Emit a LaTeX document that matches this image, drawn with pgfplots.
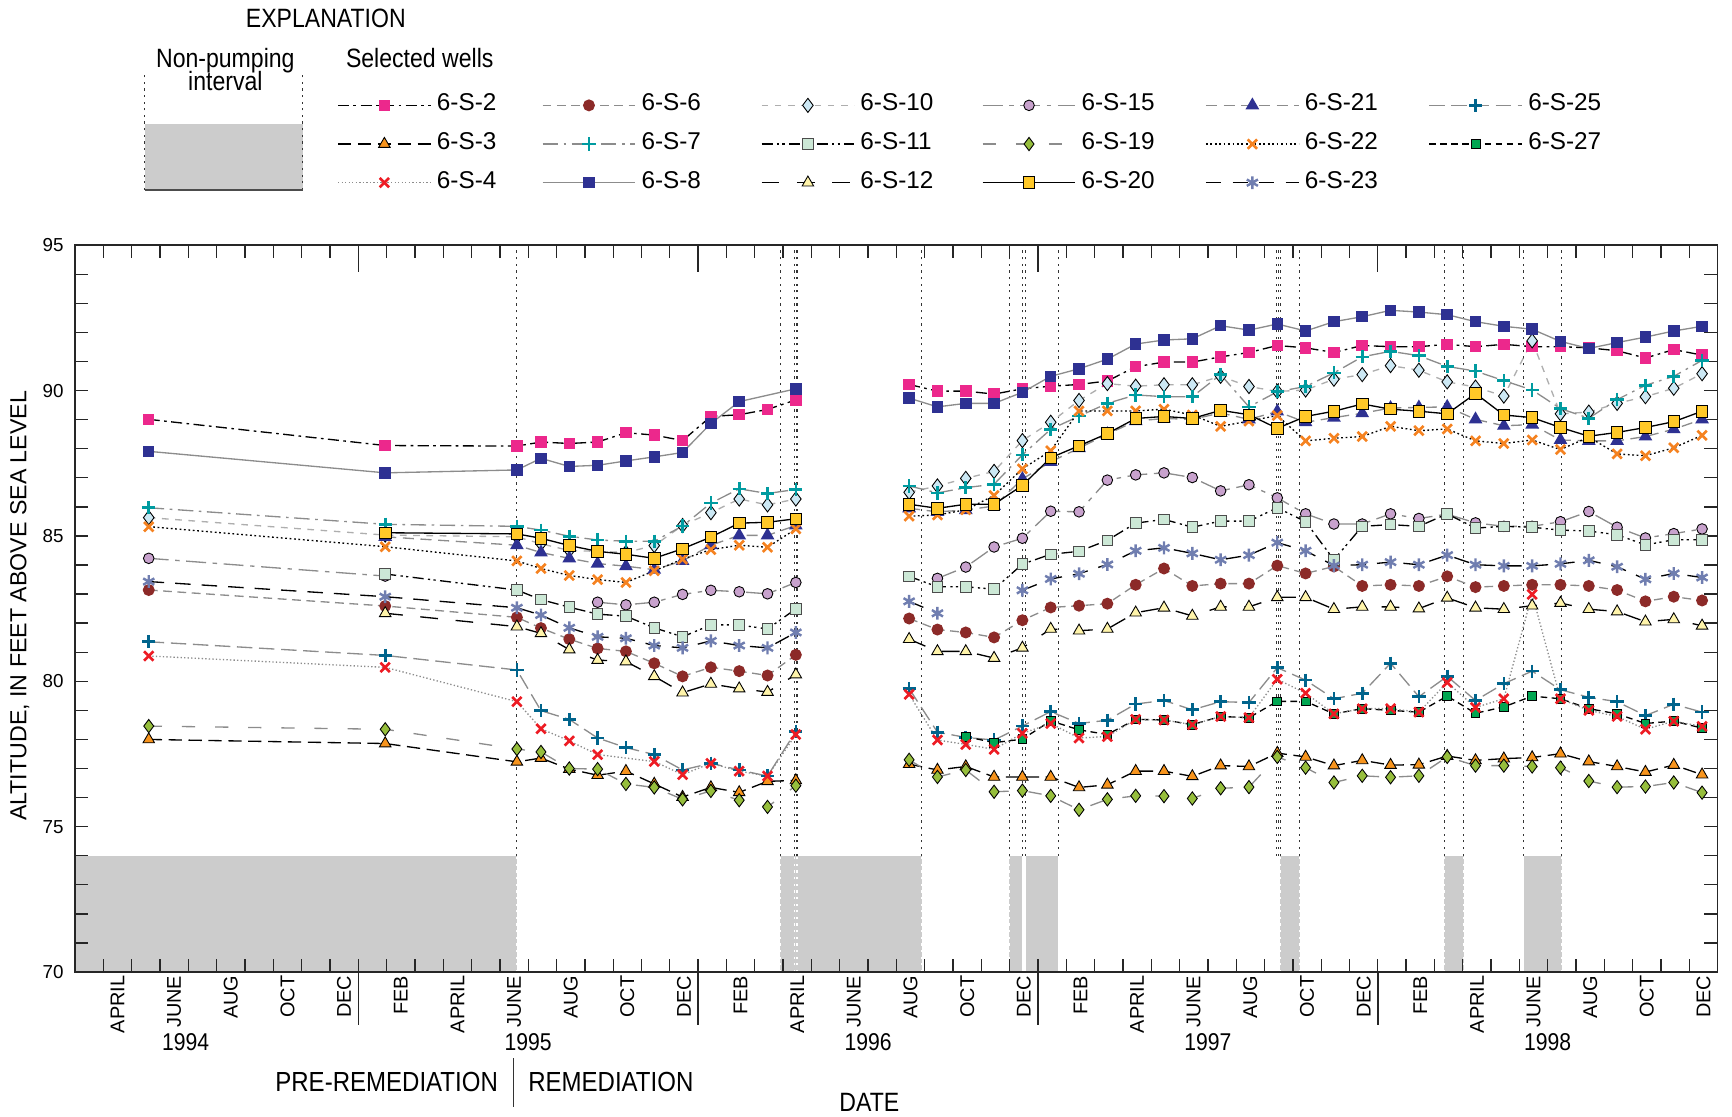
\documentclass[border=0pt]{standalone}
\usepackage{fontspec}
\setmainfont{Liberation Sans}
\newfontfamily\narrow{Liberation Sans}[FakeStretch=0.87]
\usepackage{pgfplots}
\pgfplotsset{compat=1.18}
\definecolor{c2}{RGB}{236,40,140}
\definecolor{c3}{RGB}{247,148,29}
\definecolor{c4}{RGB}{237,28,36}
\definecolor{c6}{RGB}{140,42,40}
\definecolor{c7}{RGB}{0,155,160}
\definecolor{c8}{RGB}{46,49,146}
\definecolor{c10}{RGB}{204,232,244}
\definecolor{c11}{RGB}{204,232,214}
\definecolor{c12}{RGB}{255,244,170}
\definecolor{c15}{RGB}{200,162,205}
\definecolor{c19}{RGB}{150,190,60}
\definecolor{c20}{RGB}{255,200,40}
\definecolor{c21}{RGB}{46,49,146}
\definecolor{c22}{RGB}{245,130,32}
\definecolor{c23}{RGB}{112,126,176}
\definecolor{c25}{RGB}{0,100,140}
\definecolor{c27}{RGB}{0,166,81}
\definecolor{lg}{RGB}{140,140,140}
\definecolor{np}{RGB}{204,204,204}
\pgfplotsset{
 lw/.style={line width=0.6pt},
 s2/.style={lw, black, dash pattern=on 5pt off 2pt on 1.2pt off 2pt, mark=square*, mark size=2.3pt, mark options={solid, fill=c2, draw=c2}},
 s3/.style={lw, black, dash pattern=on 6pt off 3pt, mark=triangle*, mark size=3pt, mark options={solid, fill=c3, draw=black, line width=0.4pt}},
 s4/.style={lw, lg, dash pattern=on 0.6pt off 1pt, mark=x, mark size=3pt, mark options={solid, draw=c4, line width=1.2pt}},
 s6/.style={lw, lg, dash pattern=on 4pt off 2.5pt, mark=*, mark size=2.4pt, mark options={solid, fill=c6, draw=c6}},
 s7/.style={lw, lg, dash pattern=on 7pt off 2.5pt on 1.2pt off 2.5pt, mark=+, mark size=3pt, mark options={solid, draw=c7, line width=1.2pt}},
 s8/.style={lw, lg, solid, mark=square*, mark size=2.3pt, mark options={solid, fill=c8, draw=c8}},
 s10/.style={lw, lg!70, dash pattern=on 3pt off 3pt, mark=diamond*, mark size=3.2pt, mark options={solid, fill=c10, draw=black, line width=0.4pt}},
 s11/.style={lw, black, dash pattern=on 5pt off 2pt on 1pt off 1.5pt on 1pt off 2pt, mark=square*, mark size=2.4pt, mark options={solid, fill=c11, draw=black!70, line width=0.4pt}},
 s12/.style={lw, black, dash pattern=on 8pt off 8pt, mark=triangle*, mark size=3pt, mark options={solid, fill=c12, draw=black, line width=0.4pt}},
 s15/.style={lw, lg, dash pattern=on 9pt off 3pt on 2pt off 3pt, mark=*, mark size=2.4pt, mark options={solid, fill=c15, draw=black, line width=0.4pt}},
 s19/.style={lw, lg, dash pattern=on 6pt off 9pt, mark=diamond*, mark size=3pt, mark options={solid, fill=c19, draw=black, line width=0.4pt}},
 s20/.style={lw, black, solid, mark=square*, mark size=2.6pt, mark options={solid, fill=c20, draw=black, line width=0.4pt}},
 s21/.style={lw, lg, dash pattern=on 5pt off 3pt, mark=triangle*, mark size=3pt, mark options={solid, fill=c21, draw=c21}},
 s22/.style={lw, black, dash pattern=on 0.8pt off 1.2pt, mark=x, mark size=3pt, mark options={solid, draw=c22, line width=1.2pt}},
 s23/.style={lw, black, dash pattern=on 7pt off 5pt, mark=asterisk, mark size=2.9pt, mark options={solid, draw=c23, line width=1.1pt}},
 s25/.style={lw, lg, dash pattern=on 7pt off 3pt, mark=+, mark size=3pt, mark options={solid, draw=c25, line width=1.2pt}},
 s27/.style={lw, black, dash pattern=on 3pt off 2pt, mark=square*, mark size=2pt, mark options={solid, fill=c27, draw=black, line width=0.4pt}},
}
\begin{document}
\begin{tikzpicture}
\begin{axis}[
 at={(0,0)}, anchor=south west, scale only axis,
 width=743.5pt, height=329pt,
 xmin=2, xmax=60, ymin=70, ymax=95,
 clip=false, axis on top,
 unbounded coords=jump,
 axis line style={black!85, line width=0.7pt},
 xtick={3.5,5.5,...,59.5},
 xticklabels={APRIL,JUNE,AUG,OCT,DEC,FEB,APRIL,JUNE,AUG,OCT,DEC,FEB,APRIL,JUNE,AUG,OCT,DEC,FEB,APRIL,JUNE,AUG,OCT,DEC,FEB,APRIL,JUNE,AUG,OCT,DEC},
 major x tick style={draw=none},
 minor xtick={3,4,...,59},
 ytick={70,75,...,95},
 minor ytick={71,...,94},
 minor tick length=6pt, major tick length=6pt,
 tick style={black!85, line width=0.6pt},
 xticklabel style={rotate=90, anchor=east, font=\fontsize{9}{10}\selectfont, inner sep=1.5pt},
 yticklabel style={font=\fontsize{8.5}{10}\selectfont, inner sep=0pt, xshift=-5pt},
 /pgf/number format/assume math mode=true,
 legend columns=6, legend cell align=left,
 legend style={draw=none, fill=none, at={(0.15938,1.2067)}, anchor=north west, inner sep=0pt, row sep=8.5pt, column sep=0pt, font=\fontsize{11}{13}\selectfont, nodes={inner sep=0pt, text height=7pt, text depth=2pt}},
 legend image code/.code={\draw[mark repeat=2,mark phase=2,#1] plot coordinates {(0pt,0pt) (21pt,0pt) (42pt,0pt)};},
]
% non-pumping intervals
\addplot[fill=np, draw=none, forget plot] coordinates {(2,70) (17.6,70) (17.6,74) (2,74)} -- cycle;
\addplot[fill=np, draw=none, forget plot] coordinates {(26.9,70) (31.89,70) (31.89,74) (26.9,74)} -- cycle;
\addplot[fill=np, draw=none, forget plot] coordinates {(34.98,70) (35.45,70) (35.45,74) (34.98,74)} -- cycle;
\addplot[fill=np, draw=none, forget plot] coordinates {(35.57,70) (36.71,70) (36.71,74) (35.57,74)} -- cycle;
\addplot[fill=np, draw=none, forget plot] coordinates {(44.55,70) (45.25,70) (45.25,74) (44.55,74)} -- cycle;
\addplot[fill=np, draw=none, forget plot] coordinates {(50.35,70) (51.03,70) (51.03,74) (50.35,74)} -- cycle;
\addplot[fill=np, draw=none, forget plot] coordinates {(53.15,70) (54.5,70) (54.5,74) (53.15,74)} -- cycle;
\pgfplotsinvokeforeach{17.6,26.9,27.41,27.49,31.89,34.98,35.45,35.57,36.71,44.43,44.48,44.55,45.25,50.35,51.03,53.15,54.5}{
 \addplot[forget plot, black!80, line width=0.5pt, dash pattern=on 1pt off 2pt] coordinates {(#1,74) (#1,95)};
 \addplot[forget plot, white, line width=0.5pt, dash pattern=on 1pt off 2pt] coordinates {(#1,70) (#1,74)};
}
% row 1
\addplot[s2] table[row sep=\\] {x y\\ 4.6 89.01\\ 12.95 88.11\\ 17.6 88.09\\ 18.45 88.23\\ 19.45 88.18\\ 20.45 88.23\\ 21.45 88.55\\ 22.45 88.47\\ 23.45 88.28\\ 24.45 89.11\\ 25.45 89.17\\ 26.45 89.35\\ 27.45 89.68\\ 29 nan\\ 31.45 90.21\\ 32.45 89.98\\ 33.45 89.98\\ 34.45 89.88\\ 35.45 90.06\\ 36.45 90.15\\ 37.45 90.21\\ 38.45 90.33\\ 39.45 90.82\\ 40.45 90.98\\ 41.45 90.98\\ 42.45 91.16\\ 43.45 91.31\\ 44.45 91.55\\ 45.45 91.47\\ 46.45 91.31\\ 47.45 91.55\\ 48.45 91.51\\ 49.45 91.51\\ 50.45 91.59\\ 51.45 91.51\\ 52.45 91.59\\ 53.45 91.51\\ 54.45 91.51\\ 55.45 91.47\\ 56.45 91.37\\ 57.45 91.12\\ 58.45 91.41\\ 59.45 91.22\\};
\addlegendentry{\makebox[50pt][l]{\hspace{2.5pt}6-S-2}}
\addplot[s6] table[row sep=\\] {x y\\ 4.6 83.14\\ 12.95 82.59\\ 17.6 82.2\\ 18.45 81.83\\ 19.45 81.45\\ 20.45 81.13\\ 21.45 81.03\\ 22.45 80.62\\ 23.45 80.17\\ 24.45 80.48\\ 25.45 80.35\\ 26.45 80.2\\ 27.45 80.91\\ 29 nan\\ 31.45 82.16\\ 32.45 81.78\\ 33.45 81.68\\ 34.45 81.51\\ 35.45 82.1\\ 36.45 82.54\\ 37.45 82.6\\ 38.45 82.67\\ 39.45 83.32\\ 40.45 83.88\\ 41.45 83.28\\ 42.45 83.36\\ 43.45 83.36\\ 44.45 83.98\\ 45.45 83.71\\ 46.45 83.95\\ 47.45 83.28\\ 48.45 83.32\\ 49.45 83.28\\ 50.45 83.61\\ 51.45 83.24\\ 52.45 83.28\\ 53.45 83.32\\ 54.45 83.32\\ 55.45 83.28\\ 56.45 83.14\\ 57.45 82.75\\ 58.45 82.91\\ 59.45 82.78\\};
\addlegendentry{\makebox[56.5pt][l]{\hspace{2.5pt}6-S-6}}
\addplot[s10] table[row sep=\\] {x y\\ 4.6 85.63\\ 12.95 85.03\\ 17.6 84.97\\ 18.45 84.73\\ 19.45 84.5\\ 20.45 84.47\\ 21.45 84.43\\ 22.45 84.67\\ 23.45 85.36\\ 24.45 85.8\\ 25.45 86.27\\ 26.45 86.07\\ 27.45 86.27\\ 29 nan\\ 31.45 86.5\\ 32.45 86.72\\ 33.45 86.98\\ 34.45 87.22\\ 35.45 88.28\\ 36.45 88.91\\ 37.45 89.66\\ 38.45 90.24\\ 39.45 90.15\\ 40.45 90.2\\ 41.45 90.2\\ 42.45 90.49\\ 43.45 90.14\\ 44.45 89.97\\ 45.45 90.02\\ 46.45 90.39\\ 47.45 90.55\\ 48.45 90.86\\ 49.45 90.7\\ 50.45 90.3\\ 51.45 90.12\\ 52.45 89.81\\ 53.45 91.71\\ 54.45 89.2\\ 55.45 89.26\\ 56.45 89.56\\ 57.45 89.79\\ 58.45 90.08\\ 59.45 90.58\\};
\addlegendentry{\makebox[57.5pt][l]{\hspace{2.5pt}6-S-10}}
\addplot[s15] table[row sep=\\] {x y\\ 4.6 84.23\\ 12.95 83.62\\ 16 nan\\ 20.45 82.72\\ 21.45 82.63\\ 22.45 82.72\\ 23.45 82.99\\ 24.45 83.13\\ 25.45 83.08\\ 26.45 83.01\\ 27.45 83.4\\ 29 nan\\ 32.45 83.54\\ 33.45 83.93\\ 34.45 84.62\\ 35.45 84.92\\ 36.45 85.85\\ 37.45 85.83\\ 38.45 86.92\\ 39.45 87.1\\ 40.45 87.17\\ 41.45 87.01\\ 42.45 86.55\\ 43.45 86.76\\ 44.45 86.31\\ 45.45 85.76\\ 46.45 85.41\\ 47.45 85.41\\ 48.45 85.76\\ 49.45 85.6\\ 50.45 85.75\\ 51.45 85.45\\ 52.45 85.33\\ 53.45 85.33\\ 54.45 85.49\\ 55.45 85.84\\ 56.45 85.3\\ 57.45 84.93\\ 58.45 85.08\\ 59.45 85.24\\};
\addlegendentry{\makebox[58.5pt][l]{\hspace{2.5pt}6-S-15}}
\addplot[s21] table[row sep=\\] {x y\\ 12.95 84.97\\ 17.6 84.68\\ 18.45 84.43\\ 19.45 84.23\\ 20.45 84.05\\ 21.45 83.96\\ 22.45 83.84\\ 23.45 84.14\\ 24.45 84.68\\ 25.45 85.02\\ 26.45 85.02\\ 27.45 85.36\\ 29 nan\\ 31.45 85.95\\ 32.45 85.83\\ 33.45 85.89\\ 34.45 86.03\\ 35.45 86.96\\ 36.45 87.55\\ 37.45 88.02\\ 38.45 88.5\\ 39.45 88.95\\ 40.45 89.04\\ 41.45 89.01\\ 42.45 89.23\\ 43.45 89.01\\ 44.45 89.28\\ 45.45 88.91\\ 46.45 89.07\\ 47.45 89.22\\ 48.45 89.4\\ 49.45 89.42\\ 50.45 89.44\\ 51.45 89.01\\ 52.45 88.79\\ 53.45 88.83\\ 54.45 88.3\\ 55.45 88.27\\ 56.45 88.27\\ 57.45 88.42\\ 58.45 88.67\\ 59.45 89.01\\};
\addlegendentry{\makebox[58.5pt][l]{\hspace{2.5pt}6-S-21}}
\addplot[s25] table[row sep=\\] {x y\\ 4.6 81.36\\ 12.95 80.89\\ 17.6 80.39\\ 18.45 78.99\\ 19.45 78.69\\ 20.45 78.05\\ 21.45 77.72\\ 22.45 77.48\\ 23.45 76.95\\ 24.45 77.18\\ 25.45 76.95\\ 26.45 76.74\\ 27.45 78.28\\ 29 nan\\ 31.45 79.75\\ 32.45 78.25\\ 33.45 78.07\\ 34.45 77.98\\ 35.45 78.46\\ 36.45 78.96\\ 37.45 78.55\\ 38.45 78.66\\ 39.45 79.22\\ 40.45 79.34\\ 41.45 79.02\\ 42.45 79.3\\ 43.45 79.27\\ 44.45 80.47\\ 45.45 80.04\\ 46.45 79.4\\ 47.45 79.59\\ 48.45 80.62\\ 49.45 79.47\\ 50.45 80.17\\ 51.45 79.34\\ 52.45 79.92\\ 53.45 80.35\\ 54.45 79.71\\ 55.45 79.45\\ 56.45 79.3\\ 57.45 78.82\\ 58.45 79.21\\ 59.45 78.94\\};
\addlegendentry{\makebox[58.5pt][l]{\hspace{2.5pt}6-S-25}}
% row 2
\addplot[s3] table[row sep=\\] {x y\\ 4.6 78.0\\ 12.95 77.86\\ 17.6 77.23\\ 18.45 77.36\\ 19.45 76.98\\ 20.45 76.77\\ 21.45 76.91\\ 22.45 76.47\\ 23.45 76.02\\ 24.45 76.35\\ 25.45 76.18\\ 26.45 76.56\\ 27.45 76.59\\ 29 nan\\ 31.45 77.15\\ 32.45 76.95\\ 33.45 77.07\\ 34.45 76.71\\ 35.45 76.71\\ 36.45 76.71\\ 37.45 76.35\\ 38.45 76.44\\ 39.45 76.91\\ 40.45 76.91\\ 41.45 76.73\\ 42.45 77.1\\ 43.45 77.07\\ 44.45 77.53\\ 45.45 77.4\\ 46.45 77.1\\ 47.45 77.28\\ 48.45 77.12\\ 49.45 77.13\\ 50.45 77.43\\ 51.45 77.28\\ 52.45 77.34\\ 53.45 77.38\\ 54.45 77.51\\ 55.45 77.24\\ 56.45 77.07\\ 57.45 76.88\\ 58.45 77.12\\ 59.45 76.79\\};
\addlegendentry{\makebox[50pt][l]{\hspace{2.5pt}6-S-3}}
\addplot[s7] table[row sep=\\] {x y\\ 4.6 85.97\\ 12.95 85.40\\ 17.6 85.33\\ 18.45 85.2\\ 19.45 84.99\\ 20.45 84.86\\ 21.45 84.82\\ 22.45 84.82\\ 23.45 85.34\\ 24.45 86.13\\ 25.45 86.62\\ 26.45 86.46\\ 27.45 86.6\\ 29 nan\\ 31.45 86.72\\ 32.45 86.48\\ 33.45 86.66\\ 34.45 86.78\\ 35.45 87.79\\ 36.45 88.67\\ 37.45 89.12\\ 38.45 89.56\\ 39.45 89.85\\ 40.45 89.79\\ 41.45 89.79\\ 42.45 90.55\\ 43.45 89.44\\ 44.45 89.96\\ 45.45 90.14\\ 46.45 90.61\\ 47.45 91.16\\ 48.45 91.35\\ 49.45 91.2\\ 50.45 90.83\\ 51.45 90.67\\ 52.45 90.34\\ 53.45 90.02\\ 54.45 89.38\\ 55.45 89.05\\ 56.45 89.69\\ 57.45 90.18\\ 58.45 90.49\\ 59.45 91.04\\};
\addlegendentry{\makebox[56.5pt][l]{\hspace{2.5pt}6-S-7}}
\addplot[s11] table[row sep=\\] {x y\\ 12.95 83.69\\ 17.6 83.14\\ 18.45 82.81\\ 19.45 82.55\\ 20.45 82.31\\ 21.45 82.24\\ 22.45 81.84\\ 23.45 81.53\\ 24.45 81.94\\ 25.45 81.94\\ 26.45 81.8\\ 27.45 82.49\\ 29 nan\\ 31.45 83.61\\ 32.45 83.25\\ 33.45 83.25\\ 34.45 83.17\\ 35.45 84.03\\ 36.45 84.37\\ 37.45 84.47\\ 38.45 84.85\\ 39.45 85.44\\ 40.45 85.57\\ 41.45 85.3\\ 42.45 85.51\\ 43.45 85.51\\ 44.45 85.97\\ 45.45 85.49\\ 46.45 84.18\\ 47.45 85.33\\ 48.45 85.39\\ 49.45 85.33\\ 50.45 85.76\\ 51.45 85.27\\ 52.45 85.33\\ 53.45 85.3\\ 54.45 85.2\\ 55.45 85.17\\ 56.45 85.04\\ 57.45 84.69\\ 58.45 84.87\\ 59.45 84.87\\};
\addlegendentry{\makebox[57.5pt][l]{\hspace{2.5pt}6-S-11}}
\addplot[s19] table[row sep=\\] {x y\\ 4.6 78.46\\ 12.95 78.35\\ 17.6 77.67\\ 18.45 77.57\\ 19.45 77.0\\ 20.45 76.98\\ 21.45 76.47\\ 22.45 76.35\\ 23.45 75.94\\ 24.45 76.23\\ 25.45 75.91\\ 26.45 75.68\\ 27.45 76.41\\ 29 nan\\ 31.45 77.3\\ 32.45 76.71\\ 33.45 76.95\\ 34.45 76.2\\ 35.45 76.24\\ 36.45 76.06\\ 37.45 75.58\\ 38.45 75.94\\ 39.45 76.06\\ 40.45 76.05\\ 41.45 75.97\\ 42.45 76.32\\ 43.45 76.36\\ 44.45 77.4\\ 45.45 77.03\\ 46.45 76.52\\ 47.45 76.75\\ 48.45 76.7\\ 49.45 76.75\\ 50.45 77.4\\ 51.45 77.1\\ 52.45 77.1\\ 53.45 77.07\\ 54.45 77.03\\ 55.45 76.57\\ 56.45 76.36\\ 57.45 76.38\\ 58.45 76.52\\ 59.45 76.17\\};
\addlegendentry{\makebox[58.5pt][l]{\hspace{2.5pt}6-S-19}}
\addplot[s22] table[row sep=\\] {x y\\ 4.6 85.32\\ 12.95 84.63\\ 17.6 84.14\\ 18.45 83.88\\ 19.45 83.64\\ 20.45 83.5\\ 21.45 83.4\\ 22.45 83.8\\ 23.45 84.2\\ 24.45 84.53\\ 25.45 84.68\\ 26.45 84.61\\ 27.45 85.24\\ 29 nan\\ 31.45 85.68\\ 32.45 85.72\\ 33.45 85.9\\ 34.45 86.39\\ 35.45 87.31\\ 36.45 87.93\\ 37.45 89.3\\ 38.45 89.3\\ 39.45 89.3\\ 40.45 89.36\\ 41.45 89.16\\ 42.45 88.77\\ 43.45 88.95\\ 44.45 89.14\\ 45.45 88.27\\ 46.45 88.36\\ 47.45 88.42\\ 48.45 88.77\\ 49.45 88.62\\ 50.45 88.68\\ 51.45 88.27\\ 52.45 88.18\\ 53.45 88.3\\ 54.45 87.97\\ 55.45 88.4\\ 56.45 87.82\\ 57.45 87.76\\ 58.45 88.03\\ 59.45 88.46\\};
\addlegendentry{\makebox[58.5pt][l]{\hspace{2.5pt}6-S-22}}
\addplot[s27] table[row sep=\\] {x y\\ 33.45 78.1\\ 34.45 77.89\\ 35.45 78.01\\ 36.45 78.64\\ 37.45 78.33\\ 38.45 78.17\\ 39.45 78.69\\ 40.45 78.67\\ 41.45 78.51\\ 42.45 78.79\\ 43.45 78.75\\ 44.45 79.31\\ 45.45 79.31\\ 46.45 78.88\\ 47.45 79.06\\ 48.45 79.0\\ 49.45 78.94\\ 50.45 79.49\\ 51.45 78.9\\ 52.45 79.12\\ 53.45 79.49\\ 54.45 79.4\\ 55.45 79.06\\ 56.45 78.88\\ 57.45 78.55\\ 58.45 78.63\\ 59.45 78.39\\};
\addlegendentry{\makebox[58.5pt][l]{\hspace{2.5pt}6-S-27}}
% row 3
\addplot[s4] table[row sep=\\] {x y\\ 4.6 80.87\\ 12.95 80.48\\ 17.6 79.3\\ 18.45 78.37\\ 19.45 77.95\\ 20.45 77.48\\ 22.45 77.24\\ 23.45 76.79\\ 24.45 77.18\\ 25.45 76.91\\ 26.45 76.74\\ 27.45 78.17\\ 29 nan\\ 31.45 79.55\\ 32.45 77.98\\ 33.45 77.83\\ 34.45 77.66\\ 35.45 78.21\\ 36.45 78.55\\ 37.45 78.05\\ 38.45 78.1\\ 39.45 78.69\\ 40.45 78.67\\ 41.45 78.51\\ 42.45 78.79\\ 43.45 78.75\\ 44.45 80.07\\ 45.45 79.59\\ 46.45 78.88\\ 47.45 79.06\\ 48.45 79.06\\ 49.45 78.94\\ 50.45 79.96\\ 51.45 79.1\\ 52.45 79.4\\ 53.45 82.99\\ 54.45 79.4\\ 55.45 79.0\\ 56.45 78.79\\ 57.45 78.35\\ 58.45 78.63\\ 59.45 78.45\\};
\addlegendentry{\makebox[50pt][l]{\hspace{2.5pt}6-S-4}}
\addplot[s8] table[row sep=\\] {x y\\ 4.6 87.91\\ 12.95 87.17\\ 17.6 87.27\\ 18.45 87.67\\ 19.45 87.39\\ 20.45 87.43\\ 21.45 87.58\\ 22.45 87.72\\ 23.45 87.87\\ 24.45 88.87\\ 25.45 89.62\\ 27.45 90.06\\ 29 nan\\ 31.45 89.74\\ 32.45 89.44\\ 33.45 89.56\\ 34.45 89.56\\ 35.45 89.94\\ 36.45 90.49\\ 37.45 90.75\\ 38.45 91.08\\ 39.45 91.6\\ 40.45 91.74\\ 41.45 91.78\\ 42.45 92.23\\ 43.45 92.08\\ 44.45 92.29\\ 45.45 92.05\\ 46.45 92.37\\ 47.45 92.54\\ 48.45 92.76\\ 49.45 92.7\\ 50.45 92.61\\ 51.45 92.37\\ 52.45 92.21\\ 53.45 92.11\\ 54.45 91.69\\ 55.45 91.45\\ 56.45 91.65\\ 57.45 91.84\\ 58.45 92.05\\ 59.45 92.21\\};
\addlegendentry{\makebox[56.5pt][l]{\hspace{2.5pt}6-S-8}}
\addplot[s12] table[row sep=\\] {x y\\ 12.95 82.34\\ 17.6 81.88\\ 18.45 81.65\\ 19.45 81.09\\ 20.45 80.73\\ 21.45 80.68\\ 22.45 80.17\\ 23.45 79.61\\ 24.45 79.91\\ 25.45 79.75\\ 26.45 79.63\\ 27.45 80.23\\ 29 nan\\ 31.45 81.45\\ 32.45 81.03\\ 33.45 81.03\\ 34.45 80.8\\ 35.45 81.15\\ 36.45 81.8\\ 37.45 81.74\\ 38.45 81.8\\ 39.45 82.36\\ 40.45 82.53\\ 41.45 82.25\\ 42.45 82.56\\ 43.45 82.56\\ 44.45 82.89\\ 45.45 82.89\\ 46.45 82.48\\ 47.45 82.56\\ 48.45 82.56\\ 49.45 82.5\\ 50.45 82.87\\ 51.45 82.53\\ 52.45 82.48\\ 53.45 82.6\\ 54.45 82.69\\ 55.45 82.48\\ 56.45 82.4\\ 57.45 82.05\\ 58.45 82.13\\ 59.45 81.91\\};
\addlegendentry{\makebox[57.5pt][l]{\hspace{2.5pt}6-S-12}}
\addplot[s20] table[row sep=\\] {x y\\ 12.95 85.11\\ 17.6 85.07\\ 18.45 84.92\\ 19.45 84.67\\ 20.45 84.47\\ 21.45 84.37\\ 22.45 84.23\\ 23.45 84.56\\ 24.45 84.96\\ 25.45 85.44\\ 26.45 85.47\\ 27.45 85.59\\ 29 nan\\ 31.45 86.09\\ 32.45 85.95\\ 33.45 86.09\\ 34.45 86.09\\ 35.45 86.74\\ 36.45 87.69\\ 37.45 88.1\\ 38.45 88.52\\ 39.45 89.04\\ 40.45 89.11\\ 41.45 89.04\\ 42.45 89.32\\ 43.45 89.17\\ 44.45 88.7\\ 45.45 89.11\\ 46.45 89.29\\ 47.45 89.54\\ 48.45 89.36\\ 49.45 89.29\\ 50.45 89.2\\ 51.45 89.9\\ 52.45 89.16\\ 53.45 89.07\\ 54.45 88.73\\ 55.45 88.43\\ 56.45 88.56\\ 57.45 88.73\\ 58.45 88.93\\ 59.45 89.29\\};
\addlegendentry{\makebox[58.5pt][l]{\hspace{2.5pt}6-S-20}}
\addplot[s23] table[row sep=\\] {x y\\ 4.6 83.43\\ 12.95 82.91\\ 17.6 82.53\\ 18.45 82.28\\ 19.45 81.84\\ 20.45 81.53\\ 21.45 81.48\\ 22.45 81.23\\ 23.45 81.15\\ 24.45 81.39\\ 25.45 81.23\\ 26.45 81.15\\ 27.45 81.68\\ 29 nan\\ 31.45 82.75\\ 32.45 82.34\\ 34 nan\\ 35.45 83.13\\ 36.45 83.52\\ 37.45 83.7\\ 38.45 84.02\\ 39.45 84.49\\ 40.45 84.59\\ 41.45 84.4\\ 42.45 84.18\\ 43.45 84.34\\ 44.45 84.77\\ 45.45 84.49\\ 46.45 83.98\\ 47.45 84.01\\ 48.45 84.1\\ 49.45 84.01\\ 50.45 84.34\\ 51.45 84.01\\ 52.45 83.97\\ 53.45 83.97\\ 54.45 84.04\\ 55.45 84.16\\ 56.45 83.94\\ 57.45 83.51\\ 58.45 83.71\\ 59.45 83.57\\};
\addlegendentry{\makebox[58.5pt][l]{\hspace{2.5pt}6-S-23}}
% year ticks and labels
\pgfplotsinvokeforeach{12,24,36,48}{
 \draw[black!85, line width=0.7pt] (axis cs:#1,70) -- ++(0pt,-24pt);
 \draw[black!85, line width=0.6pt] (axis cs:#1,95) -- ++(0pt,-12pt);
}
\node[font=\narrow\fontsize{11}{13}\selectfont, anchor=base] at (axis cs:5.9,70) [yshift=-35.5pt] {1994};
\node[font=\narrow\fontsize{11}{13}\selectfont, anchor=base] at (axis cs:18,70) [yshift=-35.5pt] {1995};
\node[font=\narrow\fontsize{11}{13}\selectfont, anchor=base] at (axis cs:30,70) [yshift=-35.5pt] {1996};
\node[font=\narrow\fontsize{11}{13}\selectfont, anchor=base] at (axis cs:42,70) [yshift=-35.5pt] {1997};
\node[font=\narrow\fontsize{11}{13}\selectfont, anchor=base] at (axis cs:54,70) [yshift=-35.5pt] {1998};
\end{axis}
% outer texts
\node[rotate=90, font=\fontsize{10.5}{12}\selectfont] at (-25pt,165.75pt) {ALTITUDE, IN FEET ABOVE SEA LEVEL};
\node[font=\narrow\fontsize{12.5}{14}\selectfont, anchor=base] at (141pt,-54pt) {PRE-REMEDIATION};
\node[font=\narrow\fontsize{12.5}{14}\selectfont, anchor=base] at (242.5pt,-54pt) {REMEDIATION};
\draw[black!80, line width=0.6pt] (198.5pt,-39pt) -- (198.5pt,-61pt);
\node[font=\narrow\fontsize{12}{14}\selectfont, anchor=base] at (359.5pt,-63pt) {DATE};
% explanation
\node[font=\narrow\fontsize{12}{14}\selectfont, anchor=base] at (113.5pt,427.5pt) {EXPLANATION};
\node[font=\narrow\fontsize{12}{14}\selectfont, anchor=base] at (68pt,409.5pt) {Non-pumping};
\node[font=\narrow\fontsize{12}{14}\selectfont, anchor=base] at (68pt,399pt) {interval};
\node[font=\narrow\fontsize{12}{14}\selectfont, anchor=base] at (156pt,409.5pt) {Selected wells};
\fill[np] (31.5pt,354pt) rectangle (103pt,384pt);
\draw[black!80, dash pattern=on 1pt off 2pt, line width=0.5pt] (31.5pt,354pt) -- (31.5pt,406pt);
\draw[black!80, dash pattern=on 1pt off 2pt, line width=0.5pt] (103pt,354pt) -- (103pt,406pt);
\draw[black!70, line width=1pt] (31.5pt,354pt) -- (103pt,354pt);
\pgfresetboundingbox
\path (-34pt,-65.5pt) rectangle (750pt,440pt);
\end{tikzpicture}
\end{document}
